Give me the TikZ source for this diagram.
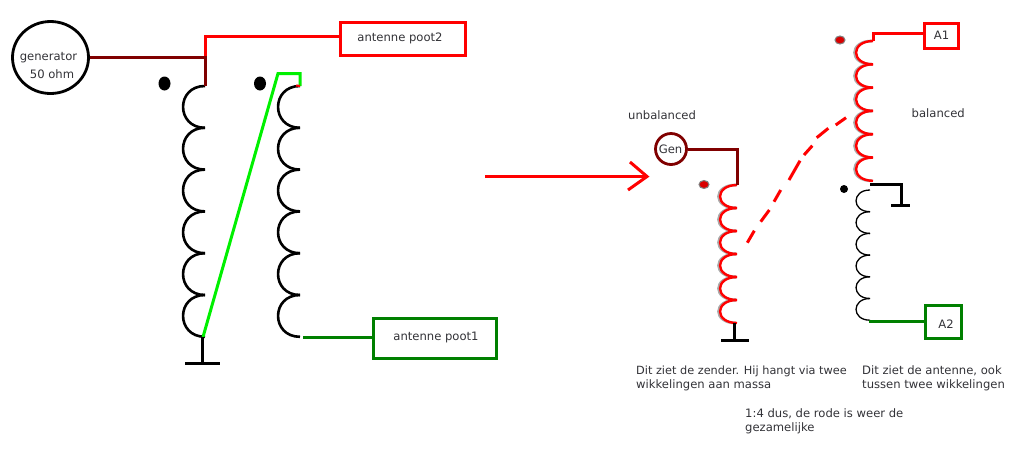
\documentclass[tikz,border=0pt]{standalone}
\usepackage{fontspec}
\setmainfont{DejaVu Sans}
\definecolor{darkr}{RGB}{128,0,0}
\definecolor{brightr}{RGB}{255,0,0}
\definecolor{brightg}{RGB}{0,240,0}
\definecolor{darkg}{RGB}{0,128,0}
\definecolor{txt}{RGB}{50,50,55}
\newcommand{\coilpath}[5]{% x, ytop, pitch, bulge, n
  \foreach \i in {1,...,#5}{
    \pgfmathsetmacro{\ya}{#2+(\i-1)*#3}
    \pgfmathsetmacro{\yb}{#2+\i*#3}
    \pgfmathsetmacro{\xc}{#1-1.33*#4}
    \draw (#1,\ya) .. controls (\xc,\ya) and (\xc,\yb) .. (#1,\yb);
  }}
\tikzset{
  lbl/.style={text=txt,font=\fontsize{11.6}{13}\selectfont,inner sep=0pt},
  txtl/.style={lbl,anchor=west},
  wire/.style={line width=3pt,line join=miter},
  coilk/.style={line width=2.6pt,black},
  dotk/.style={ellipse,fill=black,inner sep=0pt,minimum width=12pt,minimum height=14pt},
  dotr/.style={ellipse,fill=red!85!black,draw=gray,line width=1pt,inner sep=0pt,minimum width=10pt,minimum height=8pt},
  boxr/.style={draw=brightr,line width=3pt,fill=white,inner sep=0pt},
  boxg/.style={draw=darkg,line width=3pt,fill=white,inner sep=0pt},
}
\usetikzlibrary{shapes.geometric}
\begin{document}
\begin{tikzpicture}[x=1pt,y=-1pt]
\useasboundingbox (0,0) rectangle (1024,467);
% ---- left circuit ----
\node[ellipse,draw=black,line width=2.8pt,minimum width=76pt,minimum height=72pt,inner sep=0pt] (gen) at (50.5,57.5) {};
\node[lbl] (gent1) at (48.5,57.5) {generator};
\node[lbl] (gent2) at (52,74.5) {50 ohm};
\node[boxr,minimum width=125pt,minimum height=33pt] (ap2) at (402.5,38.5) {};
\node[lbl] (ap2t) at (400,38.5) {antenne poot2};
\node[boxg,minimum width=123pt,minimum height=40pt] (ap1) at (434.5,338.5) {};
\node[lbl] (ap1t) at (436,337.5) {antenne poot1};
\node[dotk] (d1) at (164.5,83.5) {};
\node[dotk] (d2) at (260,83.5) {};
\coordinate (c1t) at (205,86);
\coordinate (c1b) at (203,337);
\coordinate (c2t) at (300,86);
\coordinate (c2b) at (303,337);
\coordinate (j1) at (205,57.5);
\coordinate (j2) at (205,36);
\coordinate (g1) at (202,363);
\begin{scope}[coilk]
\coilpath{205}{86}{41.8}{22}{6}
\coilpath{300}{86}{41.8}{22}{6}
\end{scope}
\draw[wire,brightr] (j1) -- (j2) -- (j2 -| ap2.west);
\draw[wire,darkr] (gen.east) -- (j1) -- (c1t);
\draw[wire,brightg,line join=miter] (c1b) -- (278,73.5) -- (300,73.5) -- (c2t);
\draw[brightr,line width=2pt] (296,85.5) -- (c2t);
\draw[wire,darkg] (c2b) -- (c2b -| ap1.west);
\draw[wire,black] (c1b -| g1) -- (g1);
\draw[wire,black] (185,363) -- (220,363);
% ---- arrow ----
\coordinate (ar1) at (485,176.5);
\coordinate (ar2) at (647,176.5);
\draw[wire,brightr] (ar1) -- (ar2);
\draw[wire,brightr] (630,162) -- (ar2) -- (628,190);
% ---- right circuit ----
\node[txtl] (unb) at (628,115) {unbalanced};
\node[circle,draw=darkr,line width=2.8pt,minimum size=31pt,inner sep=0pt] (g2) at (671,149) {};
\node[lbl] (g2t) at (670.5,149) {Gen};
\node[dotr] (d3) at (704,184.5) {};
\node[dotr] (d4) at (840,40) {};
\node[circle,fill=black,inner sep=0pt,minimum size=8pt] (d5) at (844,189) {};
\coordinate (c3t) at (737,185);
\coordinate (c3b) at (735,323);
\coordinate (c4t) at (873,41);
\coordinate (c4b) at (870,184);
\coordinate (c5b) at (869,321);
\coordinate (k1) at (737,149);
\coordinate (k2) at (873,33);
\begin{scope}[line width=2.8pt,gray!65]
\coilpath{736}{185}{23}{17.5}{6}
\coilpath{872}{41}{23.3}{17.5}{6}
\end{scope}
\begin{scope}[line width=2.4pt,brightr]
\coilpath{737}{185}{23}{17}{6}
\coilpath{873}{41}{23.3}{17}{6}
\end{scope}
\begin{scope}[line width=1.3pt,black]
\coilpath{870}{190}{21.7}{14}{6}
\end{scope}
\draw[wire,darkr] (g2.east) -- (k1) -- (c3t);
\draw[wire,black] (734,323) -- (734,340);
\draw[wire,black] (721,340) -- (749,340);
\node[boxr,minimum width=34pt,minimum height=25pt] (a1) at (941.5,36) {};
\node[lbl] (a1t) at (941.5,35) {A1};
\node[boxg,minimum width=36pt,minimum height=33pt] (a2) at (943.5,322) {};
\node[lbl] (a2t) at (946,324) {A2};
\draw[wire,brightr] (c4t) -- (k2) -- (k2 -| a1.west);
\draw[wire,darkg] (c5b) -- (c5b -| a2.west);
\draw[wire,black] (c4b) -- (901,184) -- (901,205);
\draw[wire,black] (891,205) -- (910,205);
\foreach \a/\b/\c/\d in {747.3/242.7/754.3/230.7,760.7/221.7/769.3/210,774/201.7/780.7/190,789/180/800/160.7,804/155/812.3/145.7,816.7/137.7/828.3/128.3,835.7/125/846/117.7}
  \draw[wire,brightr] (\a,\b) -- (\c,\d);
\node[txtl] (bal) at (911.5,113) {balanced};
\node[txtl,font=\fontsize{11.3}{13}\selectfont] (t1) at (636,371) {Dit ziet de zender. Hij hangt via twee};
\node[txtl] (t2) at (636,385.5) {wikkelingen aan massa};
\node[txtl] (t3) at (862,371) {Dit ziet de antenne, ook};
\node[txtl] (t4) at (862,385.5) {tussen twee wikkelingen};
\node[txtl] (t5) at (745,414) {1:4 dus, de rode is weer de};
\node[txtl] (t6) at (745,428.5) {gezamelijke};
\end{tikzpicture}
\end{document}
